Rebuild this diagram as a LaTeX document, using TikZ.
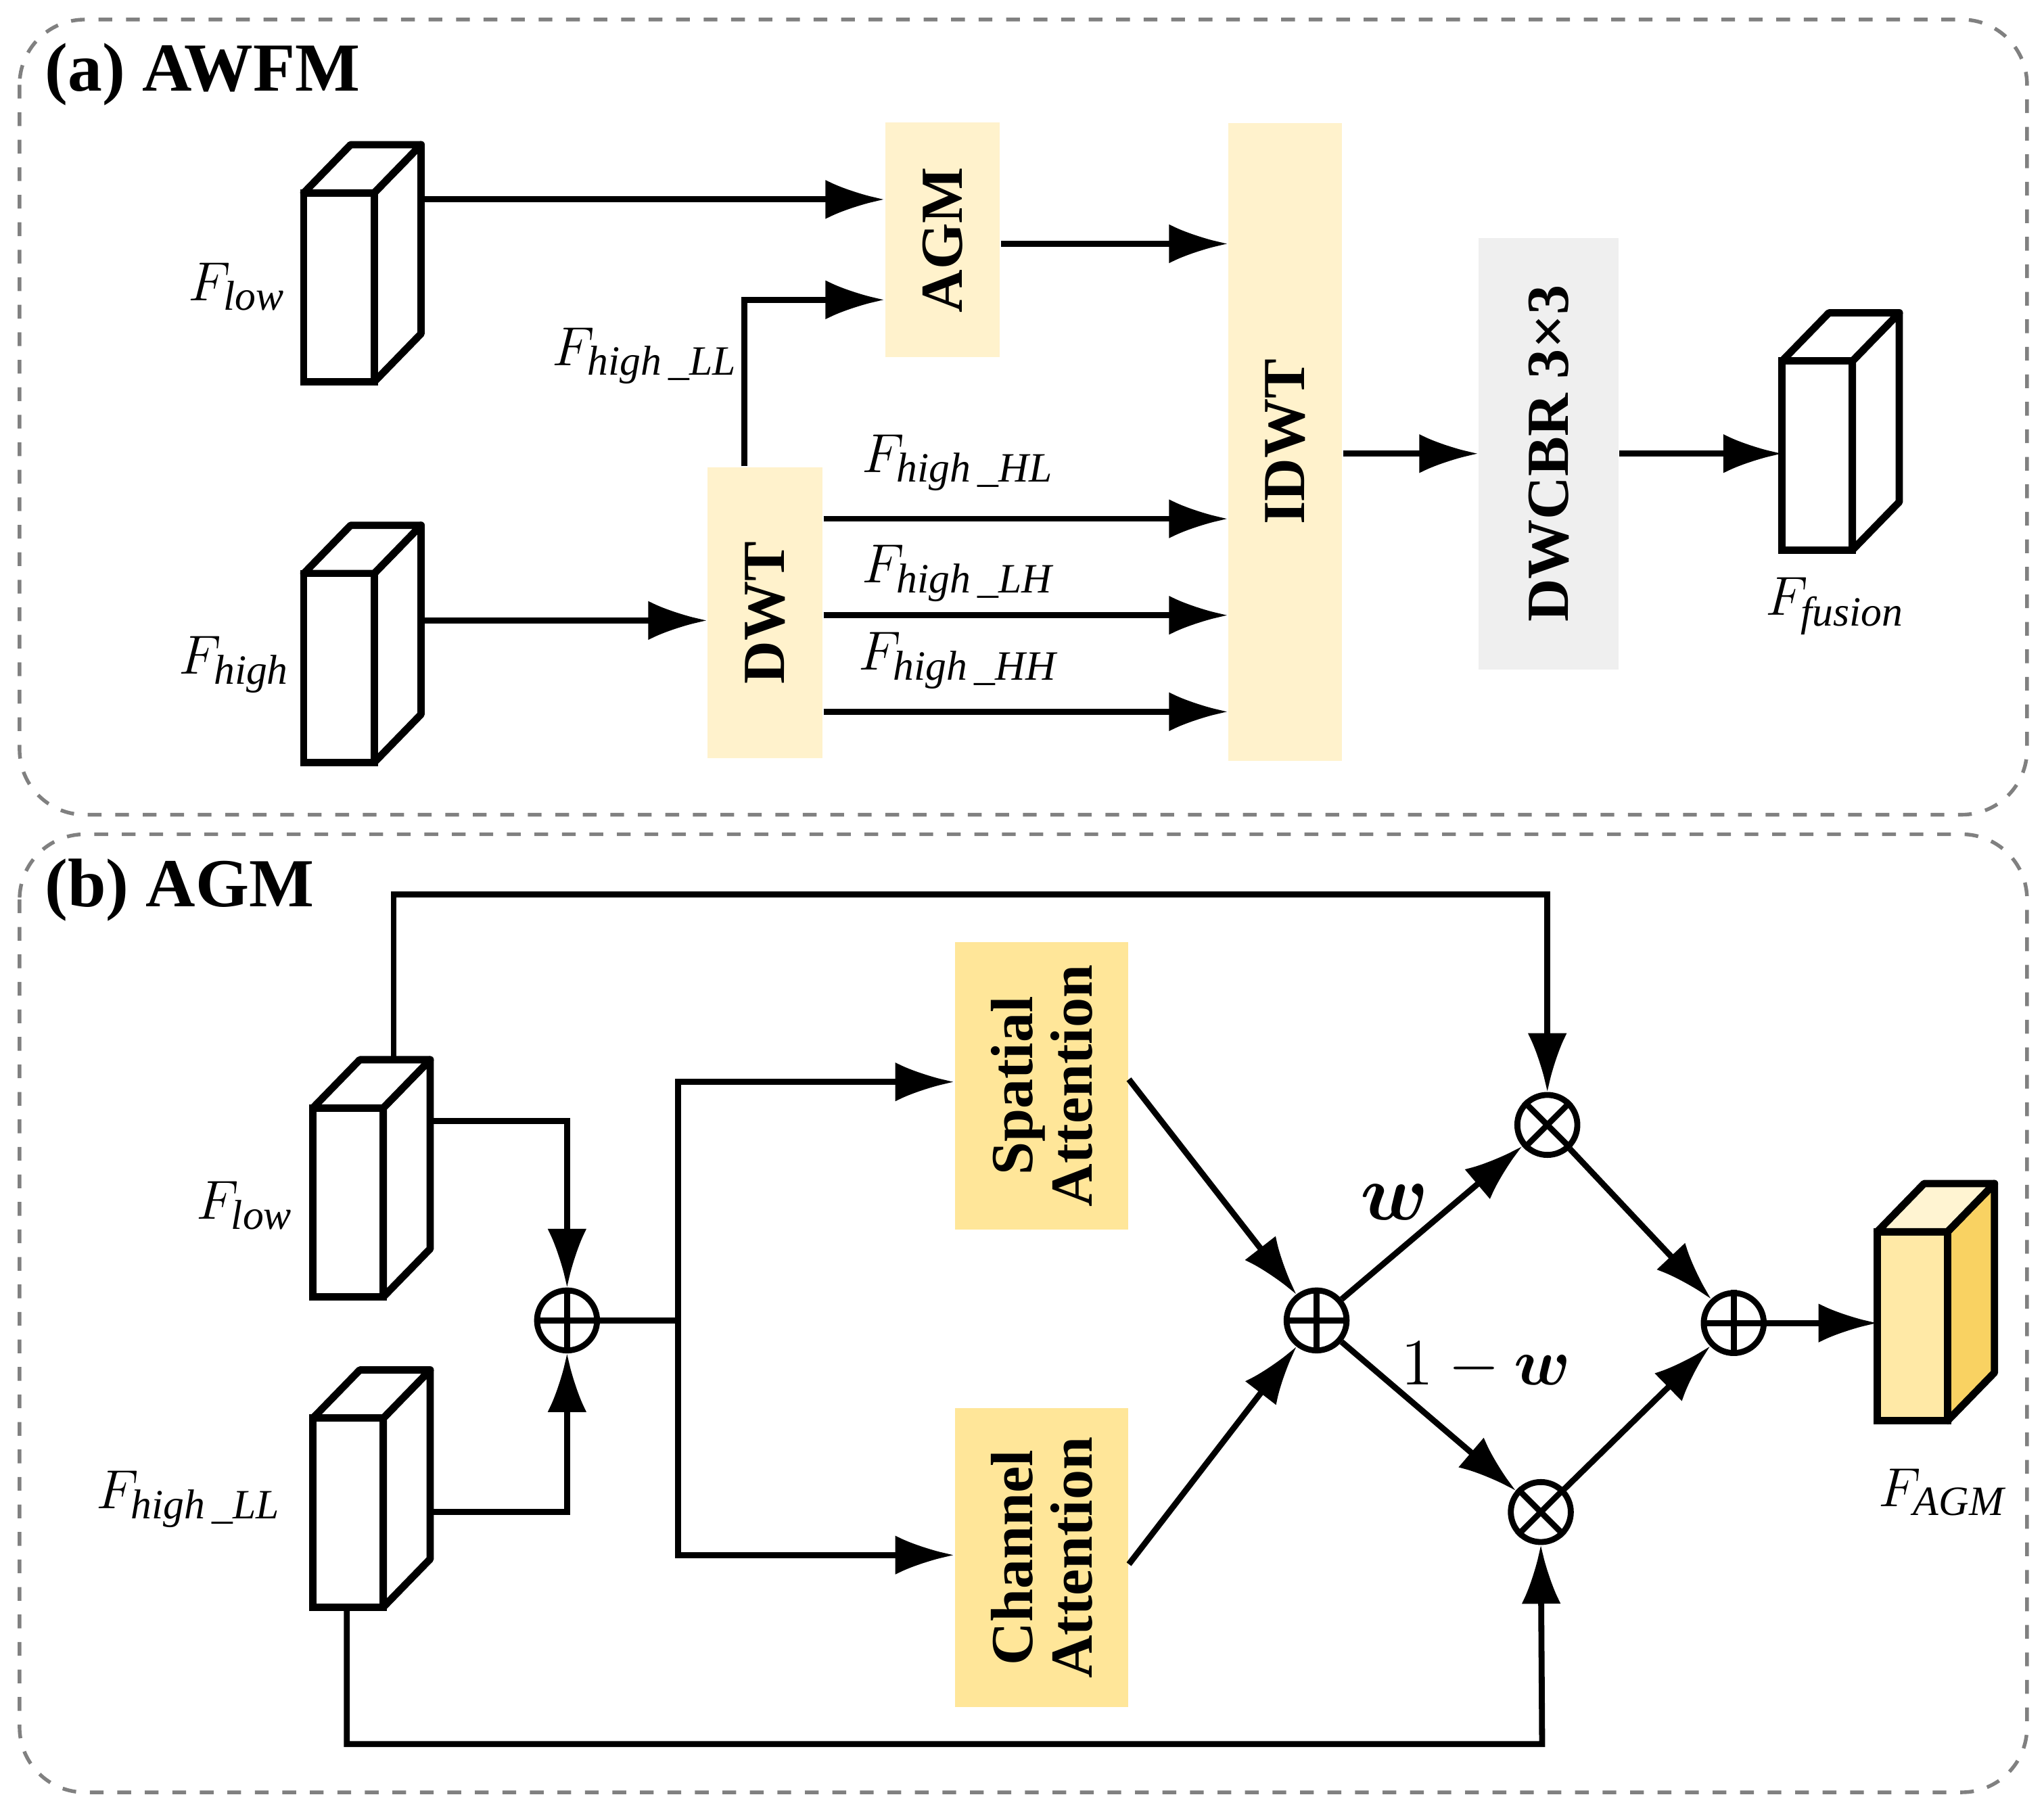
\documentclass[tikz,border=0pt]{standalone}
\usepackage{amsmath,bm}
\usepackage{fontspec}
\setmainfont{Liberation Serif}
\usetikzlibrary{arrows.meta,positioning,calc}
\definecolor{blockyel}{HTML}{FFF2CC}
\definecolor{attyel}{HTML}{FFE699}
\definecolor{convgray}{HTML}{EFEFEF}
\definecolor{cubefront}{HTML}{FFE9A6}
\definecolor{cubeside}{HTML}{F9D262}
\tikzset{
  line/.style={line width=1.3pt},
  arr/.style={line width=1.3pt,-{Latex[length=4.5mm,width=3mm]}},
  block/.style={draw=none,rotate=90,font=\bfseries\fontsize{13}{13}\selectfont,align=center,inner sep=0pt},
  opnode/.style={circle,draw,line width=1.3pt,minimum size=0.46cm,inner sep=0pt},
  lbl/.style={font=\fontsize{13}{15}\selectfont},
  frame/.style={draw=gray,dashed,line width=0.8pt,rounded corners=0.5cm},
  title/.style={anchor=west,font=\bfseries\fontsize{15}{18}\selectfont}
}
% cube: name, front top-left x, y, front fill, side fill
\newcommand{\cube}[5]{%
  \filldraw[line width=1.6pt,line join=round,fill=#5] (#2+54,#3) -- ++(36,-37) -- ++(0,145) -- ++(-36,37) -- cycle;
  \filldraw[line width=1.6pt,line join=round,fill=#4!50!white] (#2,#3) -- ++(36,-37) -- ++(54,0) -- ++(-36,37) -- cycle;
  \filldraw[line width=1.6pt,fill=#4] (#2,#3) rectangle ++(54,145);
  \coordinate (#1-in) at (#2,#3+72);
  \coordinate (#1-out) at (#2+90,#3);
  \coordinate (#1-top) at (#2+69,#3-37);
  \coordinate (#1-bot) at (#2+27,#3+145);
}
\begin{document}
\begin{tikzpicture}[x=0.01cm,y=-0.01cm]
\useasboundingbox (0,0) rectangle (1568,1396);
% frames
\draw[frame] (15,15) rectangle (1555,625);
\draw[frame] (15,640) rectangle (1555,1375);
\node[title] (ta) at (22,57) {(a) AWFM};
\node[title] (tb) at (22,683) {(b) AGM};

% (a) blocks
\node[block,fill=blockyel,minimum width=1.8cm,minimum height=0.88cm] (agm) at (723,184) {AGM};
\node[block,fill=blockyel,minimum width=4.89cm,minimum height=0.87cm] (idwt) at (986,339) {IDWT};
\node[block,fill=blockyel,minimum width=2.23cm,minimum height=0.88cm] (dwt) at (587,470) {DWT};
\node[block,fill=convgray,minimum width=3.31cm,minimum height=1.07cm] (dwcbr) at (1188,348) {DWCBR 3×3};
\cube{flow}{233}{148}{white}{white}
\cube{fhigh}{233}{440}{white}{white}
\cube{ffus}{1367}{277}{white}{white}
\node[lbl] (lflow) at (182,220) {$F_{\mathit{low}}$};
\node[lbl] (lfhigh) at (180,510) {$F_{\mathit{high}}$};
\node[lbl] (lffus) at (1408,465) {$F_{\mathit{fusion}}$};
\node[lbl] (lll) at (495,273) {$F_{\mathit{high\,\_LL}}$};
\node[lbl] (lhl) at (735,355) {$F_{\mathit{high\,\_HL}}$};
\node[lbl] (llh) at (735,440) {$F_{\mathit{high\,\_LH}}$};
\node[lbl] (lhh) at (735,507) {$F_{\mathit{high\,\_HH}}$};
% (a) connectors
\draw[arr] (323,153) -- (agm.north |- 0,153);
\draw[arr] (dwt.east -| 571,0) -- (571,230) -- (agm.north |- 0,230);
\draw[arr] (agm.south |- 0,187) -- (idwt.north |- 0,187);
\draw[arr] (323,476) -- (dwt.north |- 0,476);
\foreach \yy in {398,472,546}
  \draw[arr] (dwt.south |- 0,\yy) -- (idwt.north |- 0,\yy);
\draw[arr] (idwt.south |- 0,348) -- (dwcbr.north |- 0,348);
\draw[arr] (dwcbr.south |- 0,348) -- (1367,348);

% (b) blocks
\node[block,fill=attyel,minimum width=2.2cm,minimum height=1.33cm] (spa) at (799,833) {Spatial\\Attention};
\node[block,fill=attyel,minimum width=2.29cm,minimum height=1.33cm] (cha) at (799,1195) {Channel\\Attention};
\cube{blow}{240}{850}{white}{white}
\cube{bll}{240}{1088}{white}{white}
\cube{agmout}{1440}{945}{cubefront}{cubeside}
\node[opnode] (add1) at (435,1013) {};
\node[opnode] (add2) at (1010,1013) {};
\node[opnode] (add3) at (1330,1015) {};
\node[opnode] (mul1) at (1187,863) {};
\node[opnode] (mul2) at (1182,1160) {};
\foreach \n in {add1,add2,add3}{
  \draw[line width=1.3pt] (\n.north) -- (\n.south) (\n.west) -- (\n.east);}
\foreach \n in {mul1,mul2}{
  \draw[line width=1.3pt] (\n.north west) -- (\n.south east) (\n.north east) -- (\n.south west);}
\node[lbl] (lblow) at (188,925) {$F_{\mathit{low}}$};
\node[lbl] (lbll) at (145,1150) {$F_{\mathit{high\,\_LL}}$};
\node[lbl] (lagm) at (1490,1145) {$F_{\mathit{AGM}}$};
\node[font=\fontsize{17}{20}\selectfont] (lw) at (1070,922) {$\bm{w}$};
\node[font=\fontsize{15}{18}\selectfont] (l1w) at (1140,1048) {$1-\bm{w}$};
% (b) connectors
\draw[arr] (329,860) -- (435,860) -- (add1.north);
\draw[arr] (329,1160) -- (435,1160) -- (add1.south);
\draw[line] (add1.east) -- (520,1013);
\draw[arr] (520,1013) -- (520,830) -- (spa.north |- 0,830);
\draw[arr] (520,1013) -- (520,1193) -- (cha.north |- 0,1193);
\draw[arr] (866,828) -- (add2);
\draw[arr] (866,1200) -- (add2);
\draw[arr] (add2) -- (mul1);
\draw[arr] (add2) -- (mul2);
\draw[arr] (mul1) -- (add3);
\draw[arr] (mul2) -- (add3);
\draw[arr] (add3) -- (1440,1015);
\draw[arr] (302,813) -- (302,686) -- (1187,686) -- (mul1.north);
\draw[arr] (266,1233) -- (266,1338) -- (1183,1338) -- (mul2.south);
\end{tikzpicture}
\end{document}
